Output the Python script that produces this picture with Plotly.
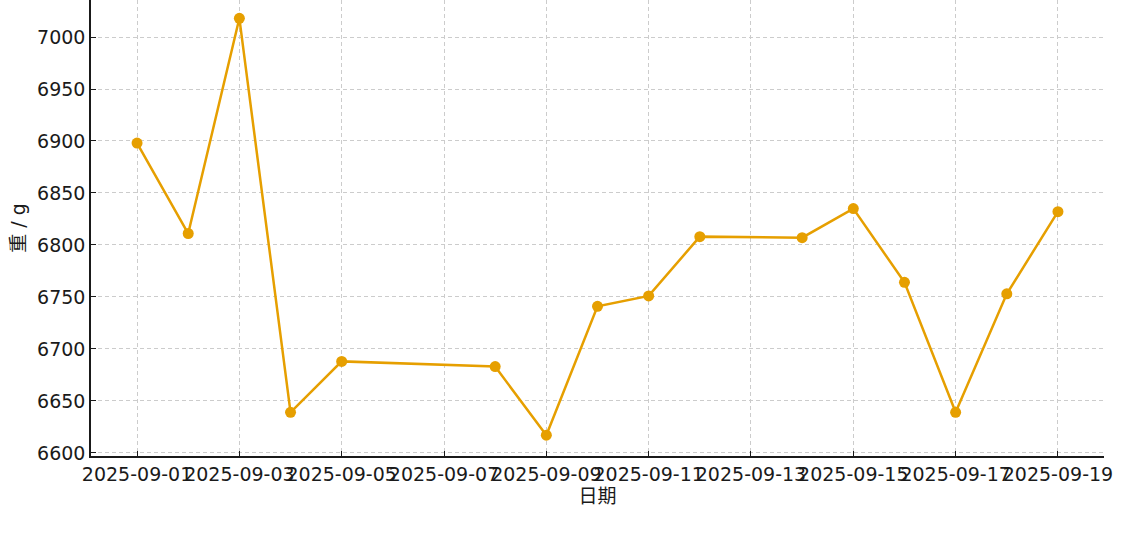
import plotly.graph_objects as go

dates = ["2025-09-01", "2025-09-02", "2025-09-03", "2025-09-04", "2025-09-05",
         "2025-09-08", "2025-09-09", "2025-09-10", "2025-09-11", "2025-09-12",
         "2025-09-14", "2025-09-15", "2025-09-16", "2025-09-17", "2025-09-18",
         "2025-09-19"]
weights = [6898, 6811, 7018, 6639, 6688,
           6683, 6617, 6741, 6751, 6808,
           6807, 6835, 6764, 6639, 6753,
           6832]

x_label = "日期"
y_label = "重 / g"

FONT = "DejaVu Sans, Noto Sans CJK SC, sans-serif"

fig = go.Figure()
fig.add_trace(go.Scatter(
    x=dates,
    y=weights,
    mode="lines+markers",
    line=dict(color="#E69F00", width=2.5),
    marker=dict(color="#E69F00", size=11),
    showlegend=False,
))

fig.update_layout(
    width=1125,
    height=542,
    margin=dict(l=91, r=21, t=0, b=86),
    paper_bgcolor="white",
    plot_bgcolor="white",
    font=dict(family=FONT, size=19, color="#1a1a1a"),
)

grid = dict(
    showgrid=True,
    gridcolor="#cccccc",
    griddash="4px,3px",
    gridwidth=1,
    zeroline=False,
    ticks="inside",
    ticklen=5,
    tickcolor="#1a1a1a",
    showline=True,
    linecolor="#1a1a1a",
    linewidth=1.5,
    automargin=False,
)

fig.update_xaxes(
    title=dict(text=x_label, font=dict(size=19), standoff=6),
    range=["2025-08-31 02:24", "2025-09-19 21:36"],
    tickformat="%Y-%m-%d",
    dtick=2 * 86400000,
    tick0="2025-09-01",
    tickangle=0,
    **grid,
)
fig.update_yaxes(
    title=dict(text=y_label, font=dict(size=19), standoff=6),
    range=[6597, 7035.6],
    dtick=50,
    **grid,
)

# page has a default 8px body margin, drop it so the figure sits at 0,0
fig.write_html("out.html", config={"displayModeBar": False},
               post_script="document.body.style.margin='0';")
